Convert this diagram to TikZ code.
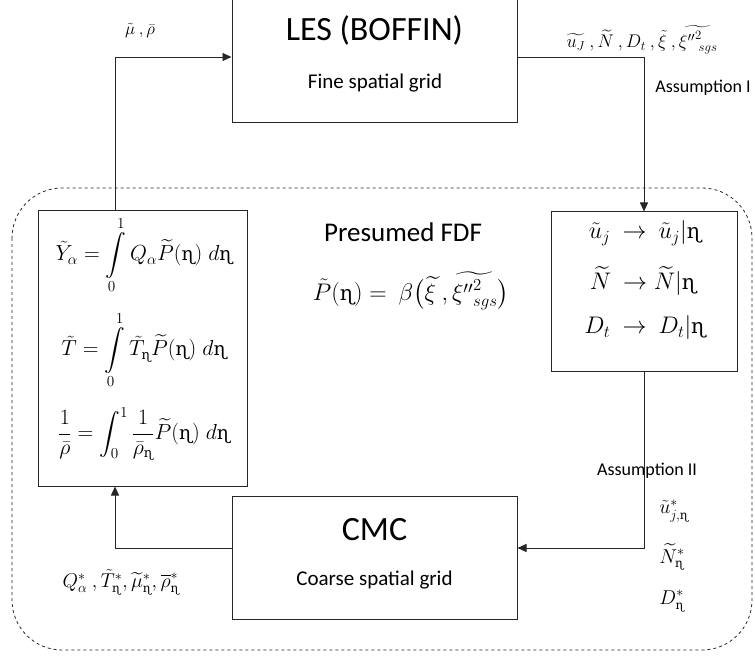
\RequirePackage{fix-cm}
\documentclass[tikz,border=0pt]{standalone}
\usepackage{amsmath}
\usepackage{fontspec}
\setmainfont{Carlito}
\newfontfamily\ipafont{DejaVu Serif}
\usepackage{xcolor}
\usepackage{tikz}
\usetikzlibrary{positioning,arrows.meta}
\definecolor{frame}{HTML}{262626}
\newcommand{\eh}{\text{\scalebox{0.86}{\ipafont ɳ}}}

\begin{document}
\begin{tikzpicture}[x=1pt,y=-1pt,
      block/.style={draw=frame,line width=1pt,fill=white,inner sep=0pt},
      arrow/.style={-{Triangle[length=9pt,width=8pt]},line width=0.9pt,color=frame},
      title/.style={font=\fontsize{34}{38}\selectfont},
      sub/.style={font=\fontsize{21}{25}\selectfont},
      note/.style={font=\fontsize{18}{21}\selectfont},
      eq/.style={font=\fontsize{21.8}{26}\selectfont},
      cq/.style={font=\fontsize{24}{28}\selectfont},
      star/.style={font=\fontsize{20}{24}\selectfont}]
      \useasboundingbox (0,0) rectangle (755,660);
      \draw[dashed,line width=0.8pt,color=frame,rounded corners=50pt] (12,188) rectangle (752,650);
      \node[block,minimum width=285pt,minimum height=127pt] (les) at (374.5,59.5) {};
      \node[block,minimum width=209pt,minimum height=275pt] (integrals) at (142.5,348.5) {};
      \node[block,minimum width=186pt,minimum height=159pt] (cond) at (644,291.5) {};
      \node[block,minimum width=285pt,minimum height=123pt] (cmc) at (374.5,557.5) {};
      \node[title] (lestitle) at (374.5,30) {LES (BOFFIN)};
      \node[sub] (lesgrid) at (375,83) {Fine spatial grid};
      \node[title] (cmctitle) at (374.5,530) {CMC};
      \node[sub] (cmcgrid) at (374.5,580) {Coarse spatial grid};
      \node[font=\fontsize{27}{31}\selectfont] (fdf) at (403,232) {Presumed FDF};
      \node[font=\fontsize{24}{28}\selectfont] (beta) at (411,291) {$\tilde{P}(\eh) =\ \beta\big(\widetilde{\xi}\ ,\widetilde{{\xi''}^{2}_{sgs}}\big)$};
      \node[eq] (yalpha) at (144,255) {$\displaystyle \tilde{Y}_{\alpha} = \int\limits_{0}^{1} Q_{\alpha}\widetilde{P}(\eh)\; d\eh$};
      \node[eq] (tint) at (144,350) {$\displaystyle \tilde{T} = \int\limits_{0}^{1} \tilde{T}_{\eh}\widetilde{P}(\eh)\; d\eh$};
      \node[eq] (rhoint) at (144,434) {$\displaystyle \frac{1}{\bar{\rho}} = \int_{0}^{1} \frac{1}{\bar{\rho}_{\eh}}\widetilde{P}(\eh)\; d\eh$};
      \node[cq] (ucond) at (645,233) {$\tilde{u}_{j}\ \rightarrow\ \tilde{u}_{j}|\eh$};
      \node[cq] (ncond) at (643,281) {$\widetilde{N}\ \rightarrow \widetilde{N}|\eh$};
      \node[cq] (dcond) at (645,328) {$D_{t}\ \rightarrow\ D_{t}|\eh$};
      \node[font=\fontsize{18.3}{21}\selectfont] (lesout) at (642,40) {$\widetilde{u_{J}}\ ,\widetilde{N}\ ,D_{t}\ ,\tilde{\xi}\ ,\widetilde{{\xi''}^{2}_{\;sgs}}$};
      \node[note] (assone) at (703,88) {Assumption I};
      \node[font=\fontsize{17}{20}\selectfont] (lesin) at (140,31) {$\tilde{\mu}\ ,\bar{\rho}$};
      \node[note] (asstwo) at (647,471) {Assumption II};
      \node[star] (ustar) at (674,511) {$\tilde{u}^{*}_{j,\eh}$};
      \node[star] (nstar) at (672,557) {$\widetilde{N}^{*}_{\eh}$};
      \node[star] (dstar) at (672,601) {$D^{*}_{\eh}$};
      \node[star] (cmcout) at (121,582) {$Q^{*}_{\alpha}\ ,\tilde{T}^{*}_{\eh},\widetilde{\mu}^{*}_{\eh},\overline{\rho}^{*}_{\eh}$};
      \coordinate (upleft) at (115,57);
      \coordinate (upright) at (644,57);
      \coordinate (downright) at (644,548);
      \draw[arrow] (integrals.north -| upleft) |- (les.west |- upleft);
      \draw[arrow] (les.east |- upright) -| (cond.north);
      \draw[arrow] (cond.south) |- (cmc.east |- downright);
      \draw[arrow] (cmc.west |- downright) -| (integrals.south -| upleft);
    \end{tikzpicture}
\end{document}
